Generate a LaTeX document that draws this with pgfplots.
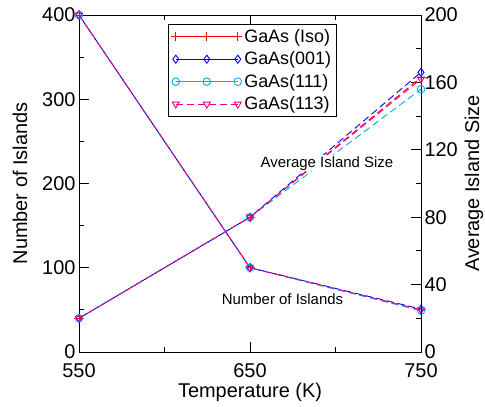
\documentclass[border=0pt]{standalone}
\usepackage{pgfplots}
\pgfplotsset{compat=1.18}
\usepackage{fontspec}
\setmainfont{Liberation Sans}

\pgfplotstableread{
T    iso   g001  g111  g113
550  400   400   400   400
650  100   100   100   100
750  50    51    49    50
}\islands

\pgfplotstableread{
T    iso   g001  g111  g113
550  20    20    20    20
650  80    80    80    80
750  163   166   156   162
}\sizes

\begin{document}
\begin{tikzpicture}
\pgfplotsset{
  common/.style={
    scale only axis, width=342bp, height=337bp,
    xmin=550, xmax=750,
    tick align=inside,
    major tick length=10bp, minor tick length=5bp,
    every tick/.style={black, line width=0.8bp},
    /pgf/number format/assume math mode=true,
    ticklabel style={font=\fontsize{20}{24}\selectfont, inner ysep=0bp},
    label style={font=\fontsize{20}{24}\selectfont},
    axis line style={line width=0.9bp},
  },
  legend image code/.code={
    \draw[mark repeat=1,#1] plot coordinates {(0bp,0bp) (31bp,0bp) (62bp,0bp)};
  },
}
\begin{axis}[common,
  name=ax,
  ymin=0, ymax=400,
  xtick={550,650,750}, minor xtick={600,700},
  ytick={0,100,200,300,400}, minor ytick={50,150,250,350},
  ytick pos=left,
  xticklabel style={yshift=-11bp},
  xlabel={Temperature (K)},
  ylabel={Number of Islands},
  xlabel style={yshift=-2bp},
  ylabel style={yshift=8bp},
  legend cell align=left,
  legend style={at={(0.26,0.973)}, anchor=north west, draw=black, line width=0.8bp,
    font=\fontsize{18}{21}\selectfont, inner sep=3bp, row sep=4bp,
    /tikz/every even column/.append style={column sep=2bp}},
]
\addplot[red, line width=0.9bp, dash pattern=on 7bp off 4bp, mark=+, mark size=4.5bp,
  mark options={solid}, legend image post style={solid}] table[x=T,y=iso] {\islands};
\addlegendentry{GaAs (Iso)}
\addplot[blue, line width=0.9bp, dash pattern=on 7bp off 4bp, dash phase=5bp, mark=diamond, mark size=4bp,
  mark options={solid}, legend image post style={solid}] table[x=T,y=g001] {\islands};
\addlegendentry{GaAs(001)}
\addplot[cyan, line width=0.9bp, dash pattern=on 7bp off 4bp, mark=o, mark size=3.8bp,
  mark options={solid}, legend image post style={solid}] table[x=T,y=g111] {\islands};
\addlegendentry{GaAs(111)}
\addplot[magenta, line width=0.9bp, dash pattern=on 7bp off 4bp, mark=triangle, mark size=4bp,
  mark options={solid, rotate=180}] table[x=T,y=g113] {\islands};
\addlegendentry{GaAs(113)}
\end{axis}
\begin{axis}[common,
  ymin=0, ymax=200,
  axis x line=none,
  axis y line*=right,
  ytick={0,40,80,120,160,200}, minor ytick={20,60,100,140,180},
  ylabel={Average Island Size},
]
\addplot[red, line width=0.9bp, dash pattern=on 7bp off 4bp, mark=+, mark size=4.5bp,
  mark options={solid}] table[x=T,y=iso] {\sizes};
\addplot[blue, line width=0.9bp, dash pattern=on 7bp off 4bp, dash phase=5bp, mark=diamond, mark size=4bp,
  mark options={solid}] table[x=T,y=g001] {\sizes};
\addplot[cyan, line width=0.9bp, dash pattern=on 7bp off 4bp, mark=o, mark size=3.8bp,
  mark options={solid}] table[x=T,y=g111] {\sizes};
\addplot[magenta, line width=0.9bp, dash pattern=on 7bp off 4bp, mark=triangle, mark size=4bp,
  mark options={solid, rotate=180}] table[x=T,y=g113] {\sizes};
\node[font=\fontsize{15}{18}\selectfont, fill=white, inner sep=1bp] at (axis cs:695,112) {Average Island Size};
\node[font=\fontsize{15}{18}\selectfont, fill=white, inner sep=1bp] at (axis cs:669,31.5) {Number of Islands};
\end{axis}
\pgfresetboundingbox
\useasboundingbox ([shift={(-79bp,-55bp)}]ax.south west) rectangle ([shift={(64bp,15bp)}]ax.north east);
\end{tikzpicture}
\end{document}
